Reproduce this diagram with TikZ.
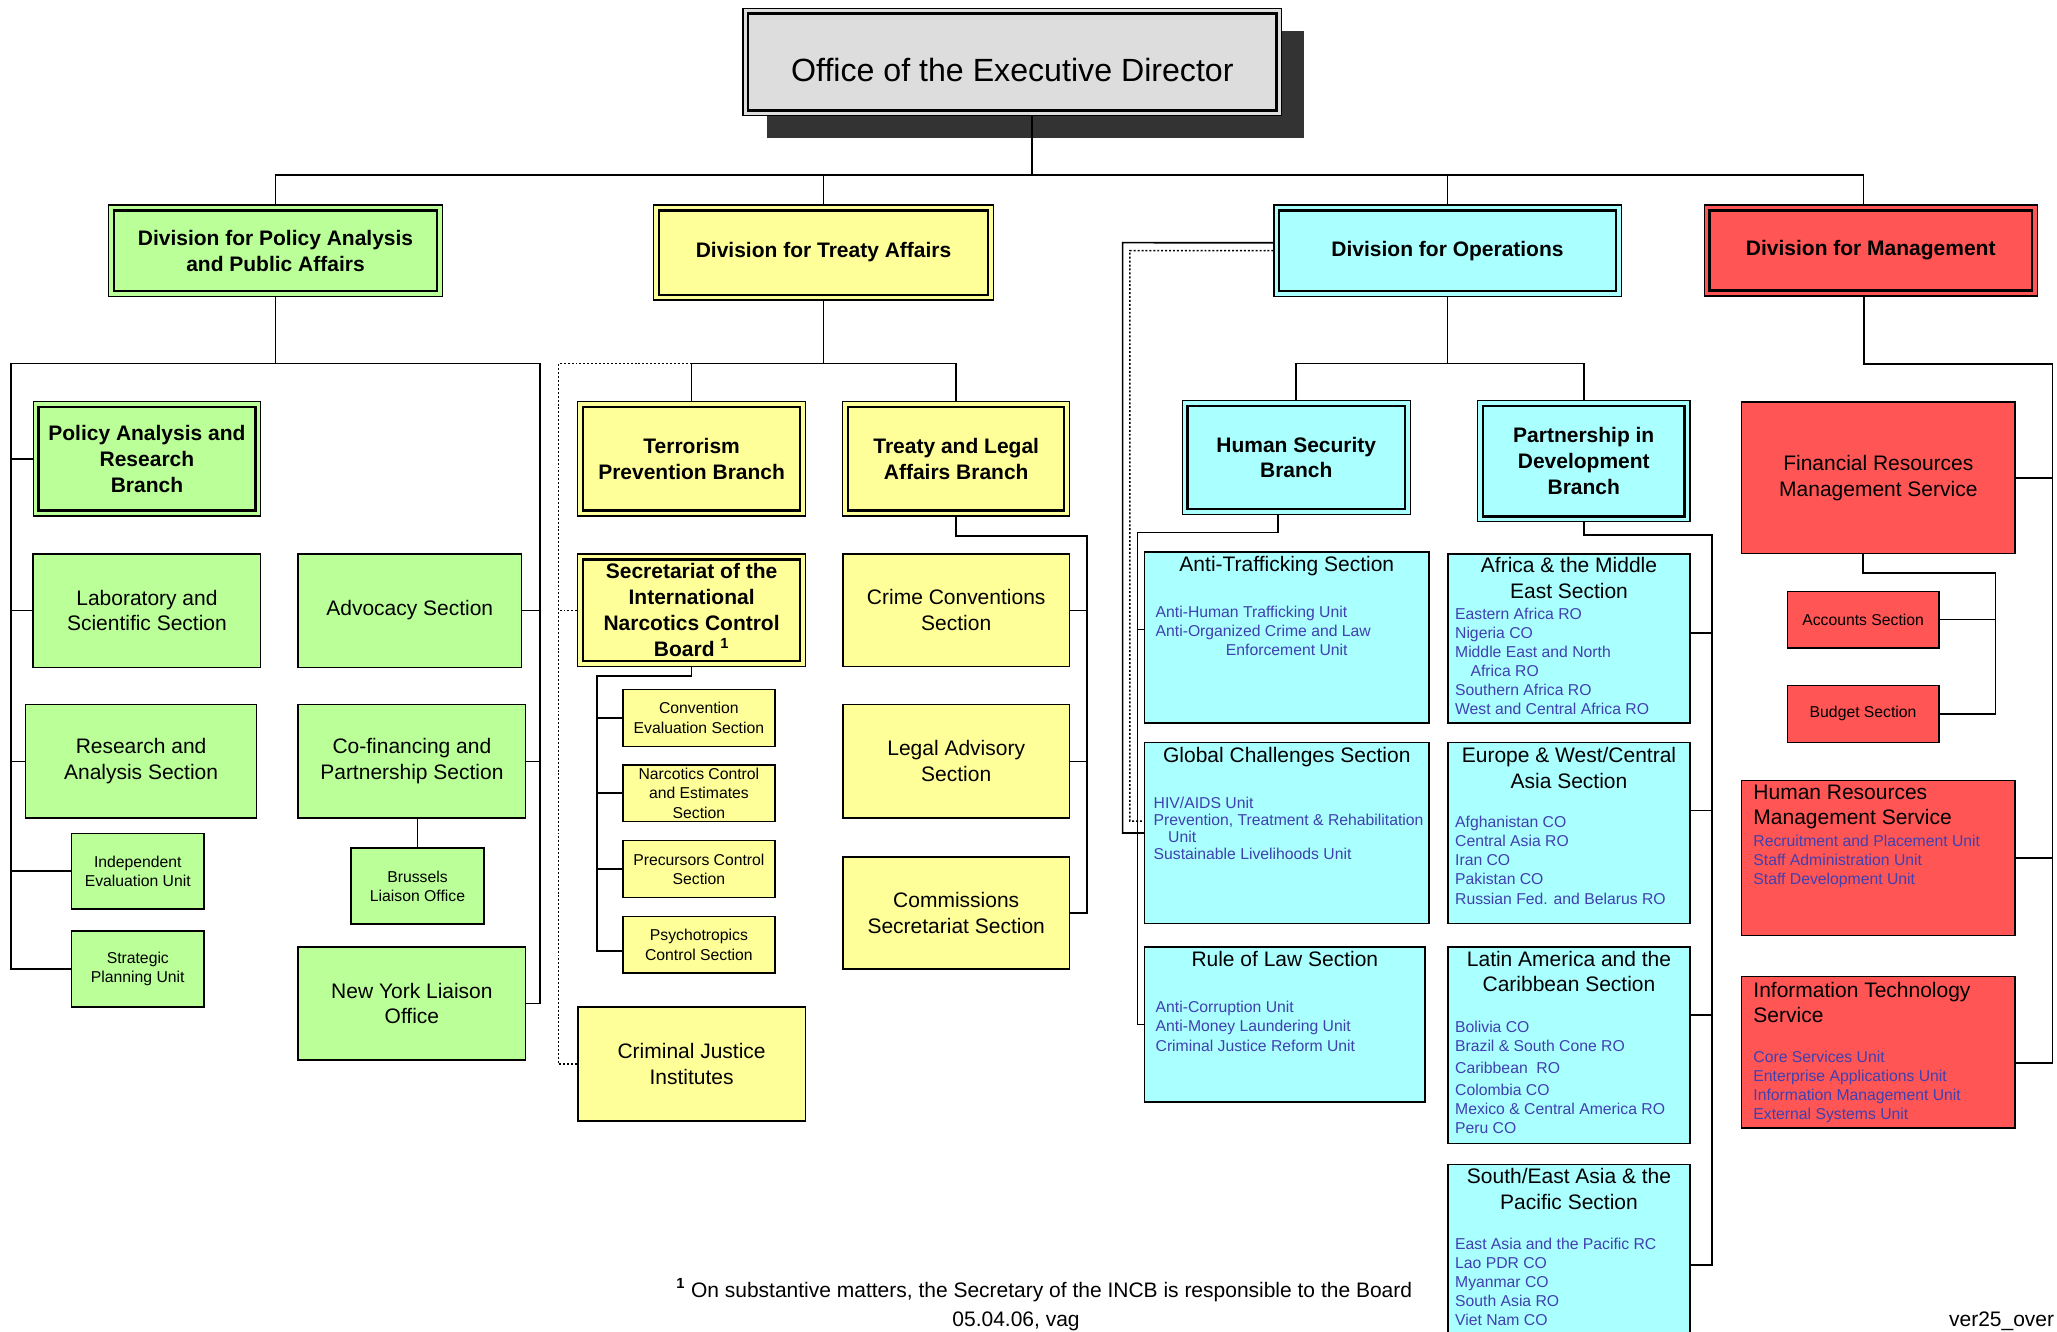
\documentclass[tikz,border=0pt]{standalone}
\usepackage{fontspec}
\setmainfont{Liberation Sans}
\definecolor{cgreen}{RGB}{187,255,153}
\definecolor{cyellow}{RGB}{255,255,153}
\definecolor{ccyan}{RGB}{170,255,255}
\definecolor{cred}{RGB}{255,85,85}
\definecolor{cgrey}{RGB}{221,221,221}
\definecolor{cshadow}{RGB}{51,51,51}
\definecolor{cunit}{RGB}{64,64,175}
\newcommand\fA{\fontsize{16}{19.7}\selectfont}
\newcommand\fS{\fontsize{12}{14.6}\selectfont}
\newcommand\fT{\fontsize{24.5}{29}\selectfont}
\newcommand\mkbox[7]{\node[#1,minimum width={(#5)-(#3)},minimum height={(#6)-(#4)}] (#2) at ({((#3)+(#5))/2},{((#4)+(#6))/2}) {#7};}
\tikzset{
  conn/.style={line width=1.2pt},
  dotline/.style={line width=1.1pt, dash pattern=on 1.5pt off 1.5pt},
  boxbase/.style={draw, line width=1.2pt, inner sep=0pt, align=center, font=\fA},
  dbl/.style={boxbase, line width=0.9pt, font=\fA\bfseries},
  sml/.style={boxbase, font=\fS},
  ttl/.style={inner sep=0pt, font=\fA, align=center, anchor=north},
  ttll/.style={inner sep=0pt, font=\fA, align=left, anchor=north west},
  units/.style={inner sep=0pt, font=\fS, align=left, text=cunit, anchor=north west}
}
\begin{document}
\begin{tikzpicture}[x=1pt,y=-1pt]
\useasboundingbox (0,0) rectangle (1568,1014.6);
\fill[white] (0,0) rectangle (1568,1014.6);
\clip (0,0) rectangle (1568,1014.6);

% ---------- top ----------
\fill[cshadow] (584.4,23.6) rectangle (994.3,105.4);
\mkbox{dbl,fill=cgrey}{ed}{566.3}{6.3}{977.1}{88.2}{}
\node[font=\fT, inner sep=0pt] (edt) at (771.7,53.4) {Office of the Executive Director};

% ---------- divisions ----------
\mkbox{dbl,fill=cgreen}{dpa}{83}{156.3}{337}{226.1}{Division for Policy Analysis\\and Public Affairs}
\mkbox{dbl,fill=cyellow}{dta}{498.2}{156.3}{757.3}{228.7}{Division for Treaty Affairs}
\mkbox{dbl,fill=ccyan}{dop}{971.1}{156.3}{1235.7}{225.8}{Division for Operations}
\mkbox{dbl,fill=cred}{dmg}{1299}{156.3}{1553}{225.6}{Division for Management}

% ---------- policy ----------
\mkbox{dbl,fill=cgreen}{parb}{25.3}{306.2}{198.7}{393.3}{Policy Analysis and\\Research\\Branch}
\mkbox{boxbase,fill=cgreen}{lss}{25.3}{422.1}{198.7}{508.7}{Laboratory and\\Scientific Section}
\mkbox{boxbase,fill=cgreen}{ras}{19.6}{537}{195.5}{623.7}{Research and\\Analysis Section}
\mkbox{sml,fill=cgreen}{ieu}{54.4}{635.2}{155.7}{692.9}{Independent\\Evaluation Unit}
\mkbox{sml,fill=cgreen}{spu}{54.4}{709.5}{155.7}{767.8}{Strategic\\Planning Unit}
\mkbox{boxbase,fill=cgreen}{adv}{227.3}{422.1}{397.4}{508.7}{Advocacy Section}
\mkbox{boxbase,fill=cgreen}{cps}{227.3}{537}{400.7}{623.7}{Co-financing and\\Partnership Section}
\mkbox{sml,fill=cgreen}{blo}{267.6}{646.5}{368.9}{704.3}{Brussels\\Liaison Office}
\mkbox{boxbase,fill=cgreen}{nyl}{227.3}{721.8}{400.7}{808}{New York Liaison\\Office}

% ---------- treaty ----------
\mkbox{dbl,fill=cyellow}{tpb}{440.5}{306.2}{613.9}{393.3}{Terrorism\\Prevention Branch}
\mkbox{dbl,fill=cyellow}{tlab}{642.5}{306.2}{815.3}{393.3}{Treaty and Legal\\Affairs Branch}
\mkbox{dbl,fill=cyellow}{sec}{440.5}{422.3}{613.9}{508}{Secretariat of the\\International\\Narcotics Control\\Board \textsuperscript{1}}
\mkbox{sml,fill=cyellow}{ces}{474.8}{525.5}{590.7}{569}{Convention\\Evaluation Section}
\mkbox{sml,fill=cyellow}{nces}{474.8}{583}{590.7}{626.3}{Narcotics Control\\and Estimates\\Section}
\mkbox{sml,fill=cyellow}{pcs}{474.8}{640.7}{590.7}{684.1}{Precursors Control\\Section}
\mkbox{sml,fill=cyellow}{psy}{474.8}{698.7}{590.7}{741.8}{Psychotropics\\Control Section}
\mkbox{boxbase,fill=cyellow}{cji}{440.5}{767.6}{613.9}{854.3}{Criminal Justice\\Institutes}
\mkbox{boxbase,fill=cyellow}{ccs}{642.5}{422.3}{815.3}{508.2}{Crime Conventions\\Section}
\mkbox{boxbase,fill=cyellow}{las}{642.5}{537}{815.3}{623.7}{Legal Advisory\\Section}
\mkbox{boxbase,fill=cyellow}{css}{642.5}{653.2}{815.3}{738.6}{Commissions\\Secretariat Section}

% ---------- operations ----------
\mkbox{dbl,fill=ccyan}{hsb}{901.1}{305.4}{1075.1}{392.1}{Human Security\\Branch}
\mkbox{dbl,fill=ccyan}{pid}{1126.3}{305.4}{1288.2}{397.7}{Partnership in\\Development\\Branch}
\mkbox{boxbase,fill=ccyan}{ats}{872.5}{420.9}{1089.2}{551}{}
\mkbox{boxbase,fill=ccyan}{gcs}{872.5}{566}{1089.2}{703.9}{}
\mkbox{boxbase,fill=ccyan}{rol}{872.5}{721.7}{1086.2}{840}{}
\mkbox{boxbase,fill=ccyan}{ame}{1103.7}{422.2}{1288.2}{551}{}
\mkbox{boxbase,fill=ccyan}{ewc}{1103.7}{566}{1288.2}{703.9}{}
\mkbox{boxbase,fill=ccyan}{lac}{1103.7}{721.7}{1288.2}{871.7}{}
\mkbox{boxbase,fill=ccyan}{sea}{1103.7}{887.5}{1288.2}{1041}{}

\node[ttl] (atsT) at (980.9,423.5) {Anti-Trafficking Section};
\node[units] (atsU) at (880.7,461.6) {Anti-Human Trafficking Unit\\Anti-Organized Crime and Law\\\hspace*{53.6pt}Enforcement Unit};
\node[ttl] (gcsT) at (980.9,569.2) {Global Challenges Section};
\node[units,font=\fontsize{12}{13}\selectfont] (gcsU) at (879.2,607.4) {HIV/AIDS Unit\\Prevention, Treatment \& Rehabilitation\\\hspace*{11.1pt}Unit\\Sustainable Livelihoods Unit};
\node[ttl] (rolT) at (979.4,725.1) {Rule of Law Section};
\node[units,font=\fontsize{12}{14.8}\selectfont] (rolU) at (880.7,762.7) {Anti-Corruption Unit\\Anti-Money Laundering Unit\\Criminal Justice Reform Unit};

\node[ttl] (ameT) at (1196,424.7) {Africa \& the Middle\\East Section};
\node[units] (ameU) at (1109,463.1) {Eastern Africa RO\\Nigeria CO\\Middle East and North\\\hspace*{11.8pt}Africa RO\\Southern Africa RO\\West and Central Africa RO};
\node[ttl] (ewcT) at (1196,569.2) {Europe \& West/Central\\Asia Section};
\node[units,font=\fontsize{12}{14.7}\selectfont] (ewcU) at (1109,621.6) {Afghanistan CO\\Central Asia RO\\Iran CO\\Pakistan CO\\Russian Fed. and Belarus RO};
\node[ttl,font=\fontsize{16}{19}\selectfont] (lacT) at (1196,725.1) {Latin America and the\\Caribbean Section};
\node[units,font=\fontsize{12}{14.3}\selectfont] (lacU) at (1109,778.2) {Bolivia CO\\Brazil \& South Cone RO\\[2.9pt]Caribbean\ \ RO\\[2.5pt]Colombia CO\\Mexico \& Central America RO\\Peru CO};
\node[ttl] (seaT) at (1196,890.6) {South/East Asia \& the\\Pacific Section};
\node[units,font=\fontsize{12}{14.5}\selectfont] (seaU) at (1109,943.4) {East Asia and the Pacific RC\\Lao PDR CO\\Myanmar CO\\South Asia RO\\Viet Nam CO};

% ---------- management ----------
\mkbox{boxbase,fill=cred}{frms}{1327.6}{306.5}{1536}{422}{Financial Resources\\Management Service}
\mkbox{sml,fill=cred}{acc}{1362.4}{450.8}{1478}{493.8}{Accounts Section}
\mkbox{sml,fill=cred}{bud}{1362.4}{522.4}{1478}{566}{Budget Section}
\mkbox{boxbase,fill=cred}{hrms}{1327.6}{594.8}{1536}{713.2}{}
\mkbox{boxbase,fill=cred}{its}{1327.6}{744.5}{1536}{860}{}
\node[ttll] (hrmsT) at (1336.4,597.9) {Human Resources\\Management Service};
\node[units,font=\fontsize{12}{14.4}\selectfont] (hrmsU) at (1336.4,636.3) {Recruitment and Placement Unit\\Staff Administration Unit\\Staff Development Unit};
\node[ttll,font=\fontsize{16}{19}\selectfont] (itsT) at (1336.4,748.4) {Information Technology\\Service};
\node[units,font=\fontsize{12}{14.4}\selectfont] (itsU) at (1336.4,801) {Core Services Unit\\Enterprise Applications Unit\\Information Management Unit\\External Systems Unit};

% ---------- inner lines of double boxes ----------
\foreach \n in {ed,dpa,dta,dop,dmg,parb,tpb,tlab,sec,hsb,pid}
  \draw[line width=1.8pt] ([xshift=4.5pt,yshift=4.5pt]\n.south west) rectangle ([xshift=-4.5pt,yshift=-4.5pt]\n.north east);

% ---------- connectors: top ----------
\coordinate (b0) at (0,133.4);
\draw[conn] ([xshift=15pt]ed.south) -- ([xshift=15pt]ed.south |- b0);
\draw[conn] (dpa.north) |- ([xshift=-5.5pt]dmg.north |- b0) -- ([xshift=-5.5pt]dmg.north);
\draw[conn] (dta.north) -- (dta.north |- b0);
\draw[conn] (dop.north) -- (dop.north |- b0);

% ---------- connectors: policy ----------
\coordinate (pL) at (8.2,277);
\coordinate (pR) at (411.6,277);
\draw[conn] (dpa.south) -- (dpa.south |- pL);
\draw[conn] (spu.west) -| (pL) -- (pR) |- (nyl.east);
\foreach \n in {parb,lss,ras,ieu} \draw[conn] (\n.west) -- (\n.west -| pL);
\foreach \n in {adv,cps} \draw[conn] (\n.east) -- (\n.east -| pR);
\draw[conn] (blo.north) -- (blo.north |- cps.south);

% ---------- connectors: treaty ----------
\coordinate (tb) at (0,277);
\coordinate (dL) at (425.8,277);
\draw[conn] (dta.south) -- (dta.south |- tb);
\draw[conn] (tpb.north) |- (tlab.north |- tb) -- (tlab.north);
\draw[dotline] (tpb.north |- tb) -- (dL) |- (cji.west);
\draw[dotline] (sec.west) -- (sec.west -| dL);
\coordinate (sL) at (455.1,515.5);
\draw[conn] (sec.south) |- (sL) |- ([yshift=-4.6pt]psy.west);
\foreach \n in {ces,nces,pcs} \draw[conn] (\n.west) -- (\n.west -| sL);
\coordinate (tR) at (828.8,408.5);
\draw[conn] (tlab.south) |- (tR) |- (css.east);
\foreach \n in {ccs,las} \draw[conn] (\n.east) -- (\n.east -| tR);

% ---------- connectors: operations ----------
\coordinate (ob) at (0,277);
\draw[conn] (dop.south) -- (dop.south |- ob);
\draw[conn] (hsb.north) |- (pid.north |- ob) -- (pid.north);
\coordinate (oS) at (855.7,185);
\coordinate (oD) at (861.3,191);
\draw[conn] ([yshift=6pt]dop.west) -- (oS) |- (gcs.west);
\draw[dotline] (dop.west) -- (oD) |- ([yshift=9pt]gcs.west);
\coordinate (hL) at (867.1,406);
\draw[conn] ([xshift=-14pt]hsb.south) |- (hL) |- (rol.west);
\draw[conn] ([yshift=6pt]ats.west) -- ([yshift=6pt]ats.west -| hL);
\draw[conn] (gcs.west) -- (gcs.west -| hL);
\coordinate (pdR) at (1305,407.8);
\draw[conn] (pid.south) |- (pdR) |- (sea.east);
\draw[conn] ([yshift=4pt]ame.east) -- ([yshift=4pt]ame.east -| pdR);
\draw[conn] ([yshift=17pt]ewc.east) -- ([yshift=17pt]ewc.east -| pdR);
\draw[conn] ([yshift=23pt]lac.east) -- ([yshift=23pt]lac.east -| pdR);

% ---------- connectors: management ----------
\coordinate (mR) at (1564.6,277.4);
\draw[conn] ([xshift=-5pt]dmg.south) |- (mR) |- ([yshift=-8pt]its.east);
\foreach \n in {frms,hrms} \draw[conn] (\n.east) -- (\n.east -| mR);
\coordinate (fR) at (1521.2,436.7);
\draw[conn] ([xshift=-11.5pt]frms.south) |- (fR) |- (bud.east);
\draw[conn] (acc.east) -- (acc.east -| fR);

% ---------- footer ----------
\node[font=\fA, anchor=base, inner sep=0pt] (fn) at (796,988.7) {\textsuperscript{\textbf{1}} On substantive matters, the Secretary of the INCB is responsible to the Board};
\node[font=\fA, anchor=base, inner sep=0pt] (date) at (774.5,1011) {05.04.06, vag};
\node[font=\fA, anchor=base east, inner sep=0pt] (ver) at (1566,1011) {ver25\_over};
\end{tikzpicture}
\end{document}
